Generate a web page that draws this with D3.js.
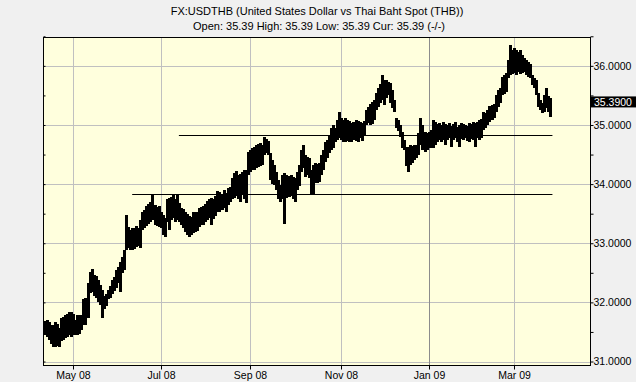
<!DOCTYPE html>
<html><head><meta charset="utf-8">
<script src="https://cdn.jsdelivr.net/npm/d3@7"></script>
<style>html,body{margin:0;padding:0;background:#f0f0f0;}svg{display:block;}</style>
</head><body>
<svg id="c" width="636" height="382"></svg>
<script>
const title = "FX:USDTHB (United States Dollar vs Thai Baht Spot (THB))";
const subtitle = "Open: 35.39 High: 35.39 Low: 35.39 Cur: 35.39 (-/-)";
const startDate = "2008-04-11";
const lastPrice = 35.39;
const yTicks = [31, 32, 33, 34, 35, 36];
const yMinorTicks = [31.5, 32.5, 33.5, 34.5, 35.5, 36.5];
const xTickDates = ["2008-05-01", "2008-07-01", "2008-09-01", "2008-11-03", "2009-01-01", "2009-03-02"];
const xTickLabels = ["May 08", "Jul 08", "Sep 08", "Nov 08", "Jan 09", "Mar 09"];
const levelValues = [34.83, 33.83];
const levelStart = ["2008-07-14", "2008-06-11"];
const levelEnd = ["2009-03-27", "2009-03-27"];

const highs = [
31.69,31.71,31.67,31.62,31.61,31.66,31.64,31.57,31.74,31.76,
31.79,31.81,31.83,31.83,31.81,31.71,31.78,31.78,31.79,32.05,
32.08,32.33,32.52,32.57,32.47,32.45,32.38,32.30,32.21,32.10,
32.15,32.21,32.28,32.38,32.43,32.55,32.59,32.69,32.77,32.89,
33.48,33.28,33.23,33.26,33.26,33.30,33.25,33.40,33.52,33.57,
33.63,33.67,33.70,33.84,33.65,33.62,33.63,33.52,33.48,33.43,
33.74,33.77,33.79,33.84,33.74,33.84,33.68,33.60,33.58,33.52,
33.50,33.46,33.45,33.52,33.52,33.53,33.60,33.62,33.63,33.67,
33.72,33.75,33.77,33.74,33.80,33.89,33.87,33.82,33.90,33.85,
33.94,33.95,34.11,34.19,34.22,34.16,34.17,34.21,34.24,34.24,
34.55,34.58,34.61,34.63,34.66,34.68,34.70,34.66,34.80,34.77,
34.73,34.53,34.41,34.33,34.21,34.07,33.99,34.16,34.19,34.16,
34.14,34.16,34.12,34.11,34.21,34.33,34.58,34.66,34.50,34.46,
34.44,34.24,34.33,34.36,34.34,34.36,34.50,34.58,34.71,34.75,
34.83,34.95,35.00,34.95,35.09,35.22,35.12,35.09,35.12,35.09,
35.07,35.04,35.05,35.09,35.07,35.05,35.04,35.07,35.26,35.31,
35.36,35.39,35.42,35.54,35.63,35.69,35.85,35.76,35.76,35.73,
35.71,35.59,35.42,35.12,35.09,35.00,34.88,34.75,34.63,34.63,
34.66,34.65,34.66,34.66,34.87,35.12,35.00,34.88,34.87,34.88,
34.92,35.09,35.05,35.02,35.04,35.00,35.05,35.02,35.00,35.04,
34.98,35.02,35.05,34.97,35.00,35.04,35.02,35.00,34.98,35.04,
35.02,35.05,35.04,35.05,35.09,35.10,35.22,35.20,35.26,35.32,
35.34,35.36,35.51,35.59,35.63,35.81,35.85,35.88,36.10,36.35,
36.27,36.30,36.27,36.23,36.27,36.18,36.13,36.10,36.07,36.03,
35.85,35.80,35.76,35.54,35.42,35.37,35.51,35.63,35.49,35.46
];
const lows = [
31.44,31.42,31.37,31.29,31.24,31.24,31.27,31.24,31.34,31.37,
31.40,31.42,31.44,31.42,31.44,31.44,31.45,31.47,31.54,31.62,
31.61,31.74,32.16,32.18,32.11,32.08,32.01,31.96,31.74,31.88,
31.94,32.05,32.08,32.15,32.20,32.25,32.32,32.18,32.49,32.55,
32.89,32.92,32.89,32.89,32.91,32.94,32.96,32.92,33.23,33.26,
33.30,33.33,33.36,33.40,33.31,33.30,33.28,33.25,33.14,33.11,
33.36,33.23,33.40,33.43,33.36,33.40,33.36,33.31,33.26,33.19,
33.14,33.11,33.14,33.18,33.19,33.21,33.28,33.31,33.31,33.36,
33.40,33.43,33.31,33.41,33.46,33.52,33.52,33.57,33.60,33.53,
33.65,33.70,33.74,33.77,33.80,33.74,33.70,33.82,33.74,33.68,
34.16,34.21,34.24,34.24,34.28,34.29,34.31,34.33,34.50,34.53,
34.50,34.07,34.01,33.99,33.90,33.74,33.70,33.74,33.33,33.77,
33.79,33.80,33.74,33.70,33.90,33.97,34.21,34.28,34.12,34.16,
34.11,33.82,33.84,34.02,34.02,34.04,34.16,34.24,34.38,34.44,
34.53,34.58,34.61,34.71,34.75,34.78,34.75,34.71,34.71,34.73,
34.71,34.71,34.75,34.73,34.71,34.78,34.73,34.83,35.00,35.04,
35.00,35.02,35.09,35.26,35.31,35.37,35.42,35.34,35.46,35.51,
35.37,35.29,35.22,34.95,34.90,34.80,34.61,34.58,34.31,34.21,
34.33,34.36,34.41,34.44,34.50,34.66,34.58,34.55,34.58,34.61,
34.61,34.61,34.66,34.71,34.75,34.71,34.75,34.66,34.75,34.78,
34.63,34.75,34.78,34.71,34.63,34.77,34.75,34.78,34.73,34.71,
34.77,34.75,34.63,34.78,34.75,34.78,34.92,34.95,35.00,35.05,
35.09,35.12,35.22,35.31,35.37,35.51,35.53,35.56,35.80,35.85,
35.86,35.88,35.85,35.90,35.86,35.88,35.90,35.85,35.81,35.80,
35.68,35.63,35.51,35.31,35.26,35.20,35.22,35.29,35.22,35.14
];

// weekday calendar for the trading-day axis
const parse = d3.timeParse("%Y-%m-%d");
const fmt = d3.timeFormat("%Y-%m-%d");
const days = [];
{
  let d = parse(startDate);
  while (days.length < 300) {
    const wd = d.getDay();
    if (wd !== 0 && wd !== 6) days.push(fmt(d));
    d = d3.timeDay.offset(d, 1);
  }
}
const idx = s => days.indexOf(s);

const W = 636, H = 382;
const L = 43, R = 591, T = 37, B = 366;
const svg = d3.select("#c");
svg.append("rect").attr("width", W).attr("height", H).attr("fill", "#f0f0f0");

const x = d3.scaleLinear().domain([-0.93, 269]).range([L, R]);
const y = d3.scaleLinear().domain([30.924, 36.488]).range([B, T]);

svg.append("rect").attr("x", L).attr("y", T).attr("width", R - L).attr("height", B - T).attr("fill", "#ffffdd");

// gridlines
const g = svg.append("g");
g.selectAll("line.hg").data(yTicks).join("line")
  .attr("x1", L).attr("x2", R)
  .attr("y1", d => Math.round(y(d)) + 0.5).attr("y2", d => Math.round(y(d)) + 0.5)
  .attr("stroke", "#c0c0c0").attr("stroke-width", 1);
g.selectAll("line.vg").data(xTickDates).join("line")
  .attr("x1", d => Math.round(x(idx(d))) + 0.5).attr("x2", d => Math.round(x(idx(d))) + 0.5)
  .attr("y1", T).attr("y2", B)
  .attr("stroke", d => d.startsWith("2009-01") ? "#8c8c8c" : "#c0c0c0").attr("stroke-width", 1);

// level lines
svg.selectAll("line.lvl").data(levelValues).join("line")
  .attr("x1", (d, i) => x(idx(levelStart[i]))).attr("x2", (d, i) => x(idx(levelEnd[i])))
  .attr("y1", d => Math.round(y(d)) + 0.5).attr("y2", d => Math.round(y(d)) + 0.5)
  .attr("stroke", "#000").attr("stroke-width", 1);

// bars
svg.append("g").attr("shape-rendering", "crispEdges").selectAll("rect").data(highs).join("rect")
  .attr("x", (d, i) => Math.round(x(i)) - 1)
  .attr("width", 3)
  .attr("y", d => Math.round(y(d)))
  .attr("height", (d, i) => Math.max(1, Math.round(y(lows[i])) - Math.round(y(d))))
  .attr("fill", "#000");

// border
svg.append("rect").attr("x", L + 0.5).attr("y", T + 0.5).attr("width", R - L - 1).attr("height", B - T - 1)
  .attr("fill", "none").attr("stroke", "#000");

// right axis
const yAxis = d3.axisRight(y).tickValues(yTicks.concat(yMinorTicks)).tickSize(3).tickFormat(d => yTicks.includes(d) ? d3.format(".4f")(d) : "");
const ya = svg.append("g").attr("transform", `translate(${R - 0.5},0)`).call(yAxis);
ya.select(".domain").remove();
ya.selectAll("line").attr("stroke", "#000");
ya.selectAll("text").attr("font-family", "Liberation Sans, Arial, sans-serif").attr("font-size", "10.5px").attr("fill", "#000").attr("x", 3);

// left inner ticks
const yl = svg.append("g").attr("transform", `translate(${L + 0.5},0)`).call(d3.axisRight(y).tickValues(yTicks.concat(yMinorTicks)).tickSize(2).tickFormat(""));
yl.select(".domain").remove();
yl.selectAll("line").attr("stroke", "#000");

// bottom axis
const xa = svg.append("g").attr("transform", `translate(0,${B - 0.5})`)
  .call(d3.axisBottom(x).tickValues(xTickDates.map(idx)).tickSize(4).tickFormat((d, i) => xTickLabels[i]));
xa.select(".domain").remove();
xa.selectAll("line").attr("stroke", "#000");
xa.selectAll(".tick").attr("transform", d => `translate(${Math.round(x(d)) + 0.5},0)`);
xa.selectAll("text").attr("font-family", "Liberation Sans, Arial, sans-serif").attr("font-size", "10.5px").attr("fill", "#000").attr("y", 6);

// last price box
svg.append("rect").attr("x", R).attr("y", y(lastPrice) - 5.5).attr("width", W - R).attr("height", 11).attr("fill", "#000");
svg.append("text").attr("x", R + 3).attr("y", y(lastPrice) + 4).attr("fill", "#fff")
  .attr("font-family", "Liberation Sans, Arial, sans-serif").attr("font-size", "10.5px").text(d3.format(".4f")(lastPrice));

// titles
svg.append("text").attr("x", 317).attr("y", 15).attr("text-anchor", "middle")
  .attr("font-family", "Liberation Sans, Arial, sans-serif").attr("font-size", "11px").text(title);
svg.append("text").attr("x", 319).attr("y", 30).attr("text-anchor", "middle")
  .attr("font-family", "Liberation Sans, Arial, sans-serif").attr("font-size", "11px").text(subtitle);
</script>
</body></html>
